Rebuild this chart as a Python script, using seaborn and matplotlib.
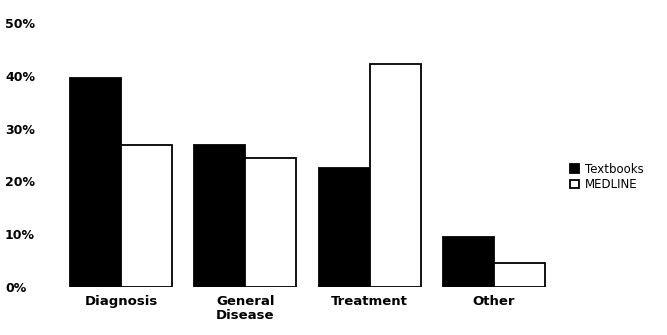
import matplotlib
matplotlib.use("Agg")
import matplotlib.pyplot as plt
import seaborn as sns
import pandas as pd

categories = ["Diagnosis", "General\nDisease", "Treatment", "Other"]
textbooks = [39.5, 26.9, 22.6, 9.5]
medline = [26.8, 24.5, 42.3, 4.5]
series = ["Textbooks", "MEDLINE"]
yticks = [0, 10, 20, 30, 40, 50]
ytick_labels = ["0%", "10%", "20%", "30%", "40%", "50%"]

df = pd.DataFrame({
    "category": categories * 2,
    "value": textbooks + medline,
    "source": [series[0]] * len(categories) + [series[1]] * len(categories),
})

sns.set_style("white")
plt.rcParams["font.family"] = ["DejaVu Sans"]
plt.rcParams["text.color"] = "black"
plt.rcParams["xtick.color"] = "black"
plt.rcParams["ytick.color"] = "black"

fig = plt.figure(figsize=(6.67, 3.35), dpi=100)
ax = fig.add_axes([60 / 667, 1 - 287 / 335, 495 / 667, (287 - 23) / 335])

sns.barplot(data=df, x="category", y="value", hue="source",
            palette={"Textbooks": "black", "MEDLINE": "white"},
            edgecolor="black", linewidth=1.3, width=0.82, ax=ax)

ax.set_xlim(-0.49, 3.49)
ax.set_ylim(0, 50)
ax.set_yticks(yticks)
ax.set_yticklabels(ytick_labels, fontsize=9, fontweight="semibold")
for lbl in ax.get_yticklabels():
    lbl.set_horizontalalignment("left")
ax.tick_params(axis="y", length=0, pad=39.6, colors="black")
ax.tick_params(axis="x", length=0, pad=6, colors="black")
ax.set_xticks(range(len(categories)))
ax.set_xticklabels(categories, fontsize=9.5, fontweight="bold", linespacing=1.1)
for s in ax.spines.values():
    s.set_visible(False)
ax.set_xlabel("")
ax.set_ylabel("")

handles, labels = ax.get_legend_handles_labels()
leg = ax.legend(handles, labels, loc="center left",
                bbox_to_anchor=(570 / 667, 1 - 177 / 335),
                bbox_transform=fig.transFigure, frameon=False, fontsize=8.5,
                handlelength=0.75, handleheight=0.75, handletextpad=0.5,
                labelspacing=0.2, borderaxespad=0, borderpad=0)
for t in leg.get_texts():
    t.set_color("black")

fig.savefig("out.png", dpi=100)
